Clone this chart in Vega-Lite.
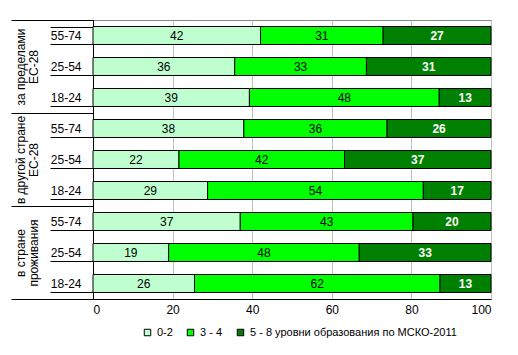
{
  "$schema": "https://vega.github.io/schema/vega-lite/v6.json",
  "width": 398,
  "height": 279,
  "padding": {"left": 10, "top": 14, "right": 25, "bottom": 5},
  "autosize": {"type": "pad"},
  "background": "white",
  "config": {
    "font": "Liberation Sans",
    "view": {"stroke": "#888888"},
    "axis": {"labelColor": "black", "labelFontSize": 12, "domainColor": "black", "tickColor": "black"}
  },
  "data": {
    "values": [
      {"group": "за пределами|ЕС-28", "age": "55-74", "level": "0-2", "value": 42.1},
      {"group": "за пределами|ЕС-28", "age": "55-74", "level": "3 - 4", "value": 30.8},
      {"group": "за пределами|ЕС-28", "age": "55-74", "level": "5 - 8 уровни образования по МСКО-2011", "value": 27.1},
      {"group": "за пределами|ЕС-28", "age": "25-54", "level": "0-2", "value": 35.6},
      {"group": "за пределами|ЕС-28", "age": "25-54", "level": "3 - 4", "value": 33.1},
      {"group": "за пределами|ЕС-28", "age": "25-54", "level": "5 - 8 уровни образования по МСКО-2011", "value": 31.3},
      {"group": "за пределами|ЕС-28", "age": "18-24", "level": "0-2", "value": 39.3},
      {"group": "за пределами|ЕС-28", "age": "18-24", "level": "3 - 4", "value": 47.7},
      {"group": "за пределами|ЕС-28", "age": "18-24", "level": "5 - 8 уровни образования по МСКО-2011", "value": 13.0},
      {"group": "в другой стране|ЕС-28", "age": "55-74", "level": "0-2", "value": 37.9},
      {"group": "в другой стране|ЕС-28", "age": "55-74", "level": "3 - 4", "value": 36.0},
      {"group": "в другой стране|ЕС-28", "age": "55-74", "level": "5 - 8 уровни образования по МСКО-2011", "value": 26.1},
      {"group": "в другой стране|ЕС-28", "age": "25-54", "level": "0-2", "value": 21.6},
      {"group": "в другой стране|ЕС-28", "age": "25-54", "level": "3 - 4", "value": 41.6},
      {"group": "в другой стране|ЕС-28", "age": "25-54", "level": "5 - 8 уровни образования по МСКО-2011", "value": 36.8},
      {"group": "в другой стране|ЕС-28", "age": "18-24", "level": "0-2", "value": 28.8},
      {"group": "в другой стране|ЕС-28", "age": "18-24", "level": "3 - 4", "value": 54.2},
      {"group": "в другой стране|ЕС-28", "age": "18-24", "level": "5 - 8 уровни образования по МСКО-2011", "value": 17.0},
      {"group": "в стране|проживания", "age": "55-74", "level": "0-2", "value": 37.0},
      {"group": "в стране|проживания", "age": "55-74", "level": "3 - 4", "value": 43.4},
      {"group": "в стране|проживания", "age": "55-74", "level": "5 - 8 уровни образования по МСКО-2011", "value": 19.6},
      {"group": "в стране|проживания", "age": "25-54", "level": "0-2", "value": 19.0},
      {"group": "в стране|проживания", "age": "25-54", "level": "3 - 4", "value": 47.9},
      {"group": "в стране|проживания", "age": "25-54", "level": "5 - 8 уровни образования по МСКО-2011", "value": 33.1},
      {"group": "в стране|проживания", "age": "18-24", "level": "0-2", "value": 25.5},
      {"group": "в стране|проживания", "age": "18-24", "level": "3 - 4", "value": 61.7},
      {"group": "в стране|проживания", "age": "18-24", "level": "5 - 8 уровни образования по МСКО-2011", "value": 12.8}
    ]
  },
  "transform": [
    {"calculate": "datum.group + '#' + datum.age", "as": "row"},
    {"stack": "value", "groupby": ["row"], "sort": [{"field": "level", "order": "ascending"}], "as": ["v0", "v1"]},
    {"calculate": "(datum.v0 + datum.v1) / 2", "as": "mid"}
  ],
  "layer": [
    {
      "layer": [
        {
          "mark": {"type": "bar", "stroke": "black", "strokeWidth": 1},
          "encoding": {
            "x": {
              "field": "v0", "type": "quantitative",
              "scale": {"domain": [0, 100], "nice": false},
              "axis": {"title": null, "values": [0, 20, 40, 60, 80, 100], "grid": true, "gridColor": "#c0c0c0", "ticks": false, "labelPadding": 5, "domainColor": "black"}
            },
            "x2": {"field": "v1"},
            "y": {
              "field": "row", "type": "nominal", "sort": null,
              "scale": {"paddingInner": 0.42, "paddingOuter": 0.21},
              "axis": {"title": null, "orient": "left", "labelExpr": "isString(datum.value) ? split(datum.value, '#')[1] : ''", "tickBand": "extent", "tickSize": 43, "labelPadding": -31, "labelOverlap": false, "domainColor": "black"}
            },
            "color": {
              "field": "level", "type": "nominal",
              "scale": {"domain": ["0-2", "3 - 4", "5 - 8 уровни образования по МСКО-2011"], "range": ["#bfffcf", "#00ff00", "#008000"]},
              "legend": {"title": null, "orient": "none", "legendX": 49, "legendY": 307, "direction": "horizontal", "gridAlign": "none", "symbolType": "square", "symbolSize": 42, "symbolStrokeColor": "black", "symbolStrokeWidth": 1, "labelFontSize": 11, "labelColor": "black", "columnPadding": 12, "labelOffset": 4, "labelLimit": 400}
            }
          }
        },
        {
          "transform": [{"filter": "datum.level != '5 - 8 уровни образования по МСКО-2011'"}],
          "mark": {"type": "text", "fontSize": 12, "color": "black"},
          "encoding": {
            "x": {"field": "mid", "type": "quantitative"},
            "y": {"field": "row", "type": "nominal", "sort": null},
            "text": {"field": "value", "type": "quantitative", "format": ".0f"}
          }
        },
        {
          "transform": [{"filter": "datum.level == '5 - 8 уровни образования по МСКО-2011'"}],
          "mark": {"type": "text", "fontSize": 12, "color": "white", "fontWeight": "bold"},
          "encoding": {
            "x": {"field": "mid", "type": "quantitative"},
            "y": {"field": "row", "type": "nominal", "sort": null},
            "text": {"field": "value", "type": "quantitative", "format": ".0f"}
          }
        }
      ]
    },
    {
      "mark": {"type": "bar", "opacity": 0},
      "encoding": {
        "x": {"field": "v0", "type": "quantitative"},
        "y": {
          "field": "group", "type": "nominal", "sort": null,
          "scale": {"type": "band", "paddingInner": 0, "paddingOuter": 0},
          "axis": {"title": null, "orient": "left", "domain": false, "tickBand": "extent", "tickSize": 82, "labelAngle": -90, "labelAlign": "center", "labelBaseline": "middle", "labelPadding": -9, "labelExpr": "isString(datum.value) ? split(datum.value, '|') : ''", "labelLineHeight": 13, "labelOverlap": false, "labelFontSize": 12}
        }
      }
    }
  ],
  "resolve": {"scale": {"y": "independent"}}
}
